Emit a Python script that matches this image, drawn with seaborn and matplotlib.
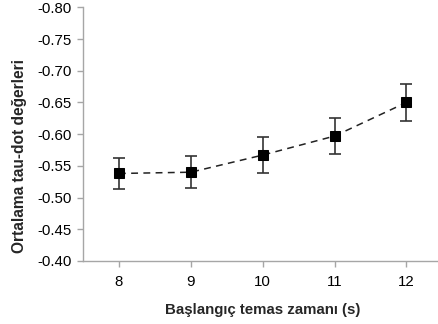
import matplotlib
matplotlib.use("Agg")
import matplotlib.pyplot as plt
import seaborn as sns
import pandas as pd

categories = [8, 9, 10, 11, 12]
means = [-0.538, -0.540, -0.567, -0.597, -0.650]
errors = [0.025, 0.025, 0.028, 0.028, 0.029]
y_ticks = [-0.80, -0.75, -0.70, -0.65, -0.60, -0.55, -0.50, -0.45, -0.40]

sns.set_style("white")
plt.rcParams['font.family'] = ['Liberation Sans', 'DejaVu Sans']

df = pd.DataFrame({"x": categories, "y": means, "err": errors})

fig = plt.figure(figsize=(4.38, 3.24), dpi=100)
ax = fig.add_axes([83/438, 1 - 261/324, 1 - 83/438 + 0.01, (261 - 7.3)/324])

ax.errorbar(df["x"], df["y"], yerr=df["err"], fmt="none", ecolor="#333333",
            elinewidth=1.2, capsize=4.3, capthick=1.2, zorder=2)
sns.lineplot(data=df, x="x", y="y", ax=ax, color="#222222", linewidth=1.1,
             linestyle=(0, (4.5, 3.5)), marker="s", markersize=7.5,
             markerfacecolor="black", markeredgecolor="black", zorder=3)

ax.set_xlim(7.5, 12.5)
ax.set_ylim(-0.40, -0.80)
ax.set_yticks(y_ticks)
ax.set_yticklabels([f"{v:.2f}" for v in y_ticks])
ax.set_xticks(categories)
ax.set_xticklabels([str(c) for c in categories])

for s in ["top", "right"]:
    ax.spines[s].set_visible(False)
for s in ["left", "bottom"]:
    ax.spines[s].set_color("#a6a6a6")
    ax.spines[s].set_linewidth(1.0)

ax.tick_params(axis="both", which="major", direction="out", length=4,
               width=1.0, color="#a6a6a6", labelsize=10.8, labelcolor="black",
               left=True, bottom=True, pad=4)
ax.tick_params(axis="x", pad=6)

ax.set_xlabel("Başlangıç temas zamanı (s)", fontsize=10.8, fontweight="bold", labelpad=10)
ax.set_ylabel("Ortalama tau-dot değerleri", fontsize=11.2, fontweight="bold")
ax.yaxis.set_label_coords(-0.157, 0.415)

fig.savefig("out.png", dpi=100)
